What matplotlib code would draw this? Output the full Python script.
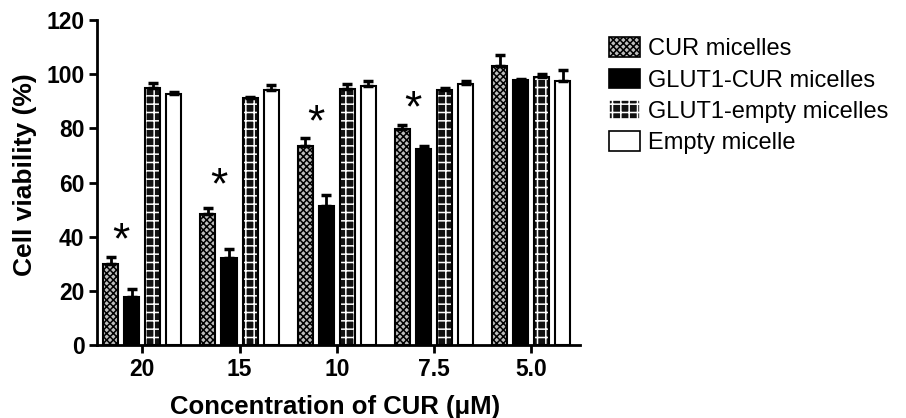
import numpy as np
import matplotlib
matplotlib.use('Agg')
import matplotlib.pyplot as plt
from matplotlib.patches import Patch

plt.rcParams['font.family'] = ['Liberation Sans', 'DejaVu Sans']
plt.rcParams['hatch.linewidth'] = 1.1

concentrations = ['20', '15', '10', '7.5', '5.0']
series_names = ['CUR micelles', 'GLUT1-CUR micelles', 'GLUT1-empty micelles', 'Empty micelle']

cur_mean = [30, 48.5, 73.5, 79.7, 103]
cur_err = [2.6, 2.0, 2.8, 1.5, 4.0]
glut_cur_mean = [17.8, 32.2, 51.5, 72.5, 97.8]
glut_cur_err = [3.0, 3.3, 4.0, 0.8, 0.5]
glut_empty_mean = [95, 91.2, 94.5, 94, 98.8]
glut_empty_err = [1.8, 0.5, 2.0, 1.0, 1.2]
empty_mean = [92.8, 94, 95.5, 96.3, 97.5]
empty_err = [0.5, 2.0, 2.0, 1.3, 4.0]

star_y = [38, 58.5, 81.5, 87]

means = [cur_mean, glut_cur_mean, glut_empty_mean, empty_mean]
errs = [cur_err, glut_cur_err, glut_empty_err, empty_err]

fig = plt.figure(figsize=(9.06, 4.18), dpi=100)
ax = fig.add_axes([97 / 906, 1 - 345 / 418, 483 / 906, 325 / 418])

x = np.arange(len(concentrations))
pitch = 0.2165
width = 0.155
for i in range(4):
    pos = x + (i - 1.5) * pitch
    if i == 0:
        ax.bar(pos, means[i], width, facecolor='#bdbdbd', edgecolor='black',
               hatch='xxxxx', linewidth=1.5, zorder=2)
    elif i == 1:
        ax.bar(pos, means[i], width, facecolor='black', edgecolor='black',
               linewidth=1.5, zorder=2)
    elif i == 2:
        # brick-like fill: dark body with light grid, then a black outline
        ax.bar(pos, means[i], width, facecolor='#111111', edgecolor='white',
               hatch='++', linewidth=0, zorder=2)
        ax.bar(pos, means[i], width, facecolor='none', edgecolor='black',
               linewidth=1.5, zorder=2)
    else:
        ax.bar(pos, means[i], width, facecolor='white', edgecolor='black',
               linewidth=1.5, zorder=2)
    ax.errorbar(pos, means[i], yerr=[np.zeros(5), errs[i]], fmt='none',
                ecolor='black', elinewidth=2, capsize=3.5, capthick=2.5, zorder=3)

proxies = [Patch(facecolor='#bdbdbd', edgecolor='black', hatch='xxxxx', linewidth=1.2),
           Patch(facecolor='black', edgecolor='black', linewidth=1.2),
           Patch(facecolor='#111111', edgecolor='white', hatch='++', linewidth=1.2),
           Patch(facecolor='white', edgecolor='black', linewidth=1.2)]

for j, yv in enumerate(star_y):
    ax.text(x[j] - pitch, yv, '*', ha='center', va='center', fontsize=32, zorder=4)

ax.set_xlim(-0.465, 4.5)
ax.set_ylim(0, 120)
ax.set_yticks(range(0, 121, 20))
ax.set_xticks(x)
ax.set_xticklabels(concentrations)
for lab in ax.get_xticklabels() + ax.get_yticklabels():
    lab.set_fontweight('bold')
    lab.set_fontsize(16.5)
ax.tick_params(width=2, length=6, direction='out', pad=3)
for s in ['top', 'right']:
    ax.spines[s].set_visible(False)
for s in ['left', 'bottom']:
    ax.spines[s].set_linewidth(2)

ax.set_ylabel('Cell viability (%)', fontsize=19, fontweight='bold')
ax.yaxis.set_label_coords(-0.125, 0.523)
ax.set_xlabel('Concentration of CUR (\u03bcM)', fontsize=18.5, fontweight='bold')
ax.xaxis.set_label_coords(0.493, -0.155)

fig.legend(handles=proxies, labels=series_names, loc='upper left',
           bbox_to_anchor=(600 / 906, 1 - 28 / 418),
           frameon=False, fontsize=17, handlelength=1.3, handleheight=0.9,
           handletextpad=0.35, labelspacing=0.35, borderaxespad=0)

fig.savefig('out.png', dpi=100)
